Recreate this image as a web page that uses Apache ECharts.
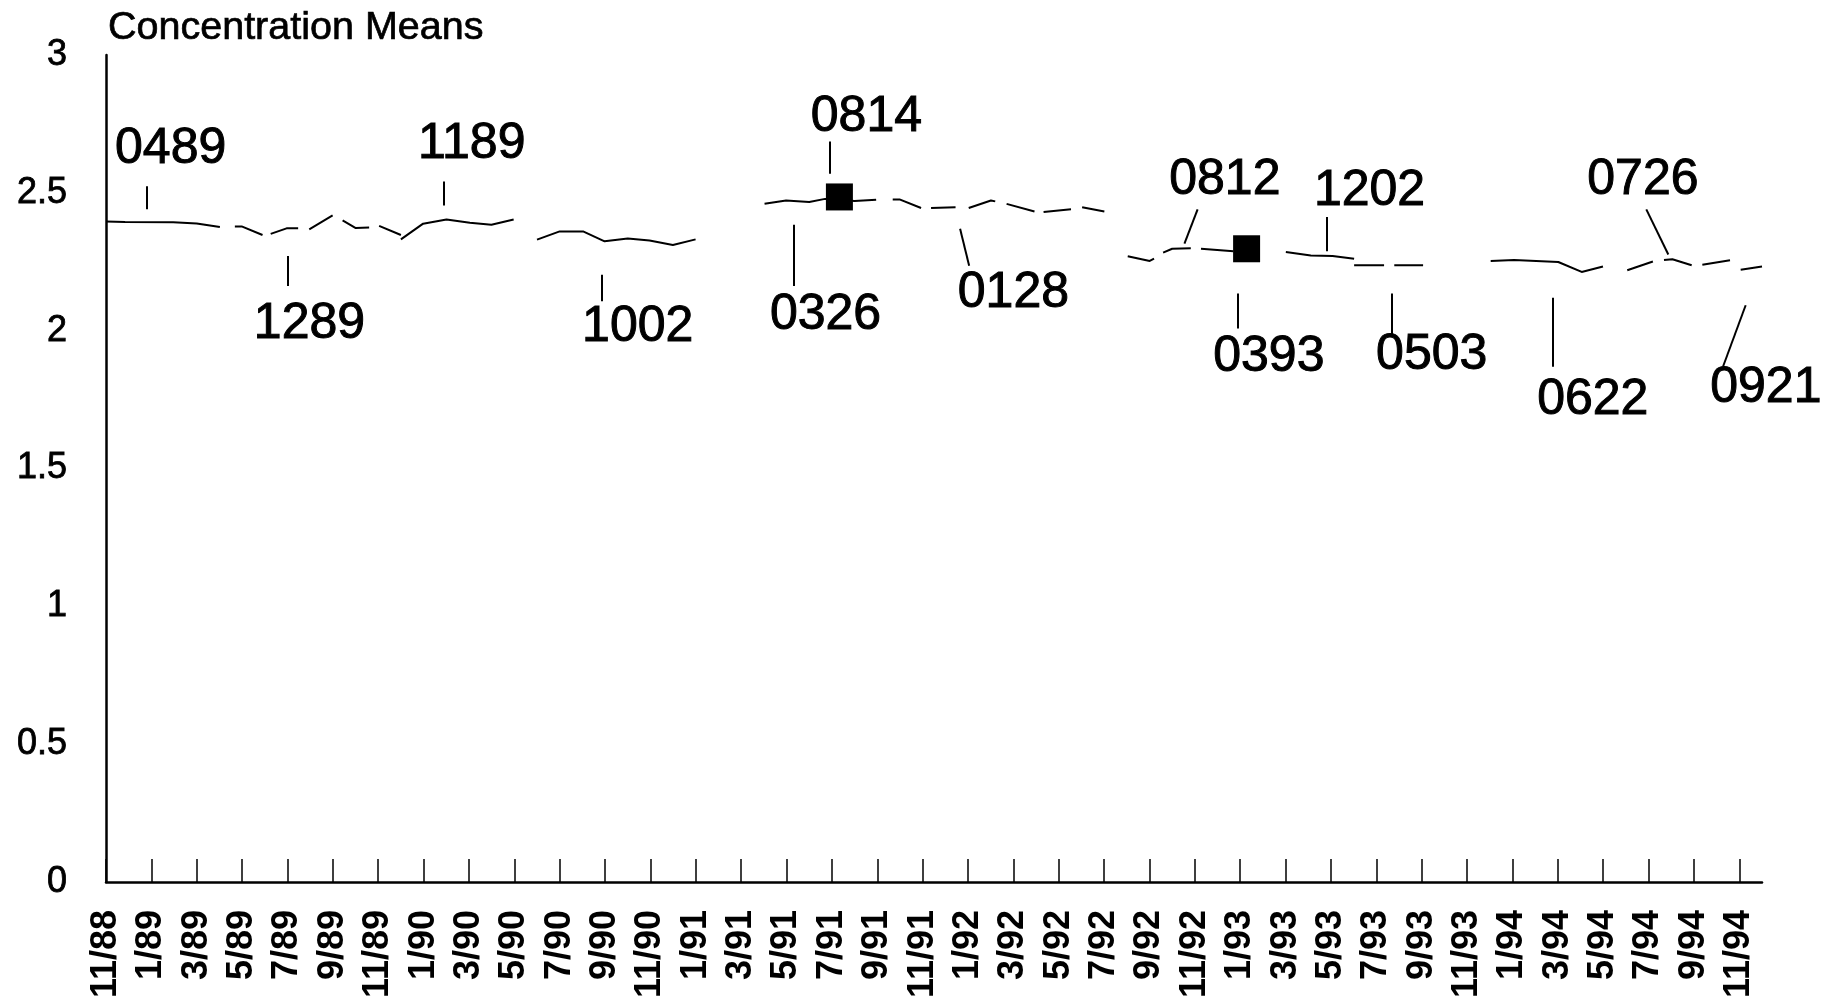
<!DOCTYPE html>
<html>
<head>
<meta charset="utf-8">
<script src="https://cdn.jsdelivr.net/npm/echarts@6/dist/echarts.min.js"></script>
<style>
html,body{margin:0;padding:0;background:#fff;}
#chart{width:1832px;height:1001px;}
</style>
</head>
<body>
<div id="chart"></div>
<script>
// Month categories (11/88 .. 12/94); every other one is labelled
const months = ['11/88','12/88','1/89','2/89','3/89','4/89','5/89','6/89','7/89','8/89','9/89','10/89','11/89','12/89',
  '1/90','2/90','3/90','4/90','5/90','6/90','7/90','8/90','9/90','10/90','11/90','12/90',
  '1/91','2/91','3/91','4/91','5/91','6/91','7/91','8/91','9/91','10/91','11/91','12/91',
  '1/92','2/92','3/92','4/92','5/92','6/92','7/92','8/92','9/92','10/92','11/92','12/92',
  '1/93','2/93','3/93','4/93','5/93','6/93','7/93','8/93','9/93','10/93','11/93','12/93',
  '1/94','2/94','3/94','4/94','5/94','6/94','7/94','8/94','9/94','10/94','11/94','12/94'];

// Concentration means: month position (months since 11/88) and value; null = break in the line
const lineMonth = [0,0.84,2.96,4.0,5.02, null, 5.68,5.98,6.90, null, 7.26,7.96,8.47, null, 8.96,9.99, null,
  10.43,11.01,11.60, null, 12.04,13.0, null, 13.0,13.98,15.01,16.04,16.99,17.97, null,
  19.0,20.0,21.03,21.98,23.0,23.96,24.99,25.99, null,
  29.03,29.98,31.0,31.7,33.0,33.95, null, 34.68,34.98,35.93, null, 36.37,37.45, null,
  38.03,39.01,39.2, null, 39.7,40.93, null, 41.33,42.54, null, 43.03,44.01, null,
  45.04,46.01,46.2, null, 46.6,47.0,47.82, null, 48.27,49.7, null,
  52.01,53.11,54.07,55.02, null, 55.02,56.34, null, 56.79,58.06, null,
  61.04,62.07,64.02,65.05,65.99, null, 67.06,68.19, null, 68.68,69.05,69.9, null,
  70.37,71.59, null, 72.06,73.0];
const lineValue = [2.396,2.394,2.393,2.389,2.376, null, 2.378,2.378,2.347, null, 2.351,2.371,2.371, null, 2.367,2.418, null,
  2.400,2.372,2.374, null, 2.380,2.347, null, 2.331,2.388,2.403,2.391,2.384,2.403, null,
  2.330,2.360,2.360,2.324,2.334,2.327,2.311,2.331, null,
  2.460,2.472,2.467,2.478,2.470,2.475, null, 2.476,2.476,2.445, null, 2.445,2.448, null,
  2.445,2.472,2.469, null, 2.460,2.432, null, 2.430,2.440, null, 2.448,2.432, null,
  2.270,2.253,2.261, null, 2.283,2.297,2.299, null, 2.297,2.288, null,
  2.285,2.273,2.271,2.261, null, 2.237,2.237, null, 2.237,2.237, null,
  2.253,2.256,2.249,2.213,2.233, null, 2.219,2.251, null, 2.256,2.259,2.237, null,
  2.239,2.255, null, 2.221,2.233];

// Highlighted points (black squares)
const squareMonth = [32.33, 50.28];
const squareValue = [2.485, 2.297];

// Lot annotations: text and its anchor (month, value)
const annotText  = ['0489','1289','1189','1002','0326','0814','0128','0812','1202','0393','0503','0622','0726','0921'];
const annotMonth = [2.85, 8.97, 16.12, 23.44, 31.72, 33.52, 40.0, 49.32, 55.7, 51.26, 58.44, 65.54, 67.75, 73.17];
const annotValue = [2.657, 2.025, 2.676, 2.013, 2.057, 2.774, 2.137, 2.546, 2.507, 1.903, 1.911, 1.746, 2.547, 1.790];

// Leader lines for the annotations
const leadM1 = [1.79, 8.03, 14.89, 21.84, 30.31, 31.89, 37.65, 48.12, 53.82, 49.9, 56.67, 63.76, 67.9, 72.28];
const leadV1 = [2.524, 2.271, 2.541, 2.203, 2.384, 2.686, 2.370, 2.440, 2.412, 2.135, 2.135, 2.119, 2.440, 2.092];
const leadM2 = [1.79, 8.03, 14.89, 21.84, 30.31, 31.89, 38.05, 47.54, 53.82, 49.9, 56.67, 63.76, 68.87, 71.28];
const leadV2 = [2.440, 2.162, 2.454, 2.107, 2.162, 2.569, 2.235, 2.316, 2.288, 2.008, 1.984, 1.869, 2.276, 1.869];

const FONT = "'Liberation Sans', Arial, Helvetica, sans-serif";

const lineData = lineMonth.map((m, i) => m === null ? ['-', '-'] : [m, lineValue[i]]);
const squareData = squareMonth.map((m, i) => [m, squareValue[i]]);
const annotData = annotMonth.map((m, i) => ({ value: [m, annotValue[i]], name: annotText[i] }));
const leaderData = leadM1.map((m, i) => ({ coords: [[m, leadV1[i]], [leadM2[i], leadV2[i]]] }));

const chart = echarts.init(document.getElementById('chart'), null, { renderer: 'canvas' });
chart.setOption({
  animation: false,
  backgroundColor: '#fff',
  title: {
    text: 'Concentration Means',
    left: 103, top: 3,
    textStyle: { fontFamily: FONT, fontSize: 39.5, fontWeight: 'normal', color: '#000',
      textBorderColor: '#000', textBorderWidth: 0.7 }
  },
  grid: { left: 106, right: 70, top: 55, bottom: 116, containLabel: false },
  xAxis: [{
    type: 'category',
    data: months,
    boundaryGap: false,
    axisLine: { show: true, lineStyle: { color: '#000', width: 2.5 } },
    axisTick: { show: true, inside: true, length: 23, interval: 1, lineStyle: { color: '#000', width: 1.5 } },
    axisLabel: { interval: 1, rotate: 90, margin: 28, color: '#000', fontFamily: FONT, fontSize: 36, fontWeight: 'bold' },
    splitLine: { show: false }
  }, {
    type: 'value', min: 0, max: 73, show: false
  }],
  yAxis: {
    type: 'value', min: 0, max: 3, interval: 0.5,
    axisLine: { show: true, lineStyle: { color: '#000', width: 2.5 } },
    axisTick: { show: false },
    splitLine: { show: false },
    axisLabel: { margin: 39, color: '#000', fontFamily: FONT, fontSize: 36,
      textBorderColor: '#000', textBorderWidth: 0.8 }
  },
  series: [{
    type: 'line', xAxisIndex: 1, data: lineData, symbol: 'none', connectNulls: false,
    lineStyle: { color: '#000', width: 2 }, clip: false, z: 2
  }, {
    type: 'lines', coordinateSystem: 'cartesian2d', xAxisIndex: 1, data: leaderData,
    lineStyle: { color: '#000', width: 2, opacity: 1, curveness: 0 }, z: 2
  }, {
    type: 'scatter', xAxisIndex: 1, data: squareData, symbol: 'rect', symbolSize: 27,
    itemStyle: { color: '#000', opacity: 1 }, clip: false, z: 3
  }, {
    type: 'scatter', xAxisIndex: 1, data: annotData, symbolSize: 1, clip: false,
    itemStyle: { color: 'rgba(0,0,0,0)', opacity: 1 },
    label: { show: true, position: 'inside', formatter: p => p.name, color: '#000', opacity: 1,
      fontFamily: FONT, fontSize: 50, textBorderColor: '#000', textBorderWidth: 1 },
    z: 4
  }]
});
</script>
</body>
</html>
